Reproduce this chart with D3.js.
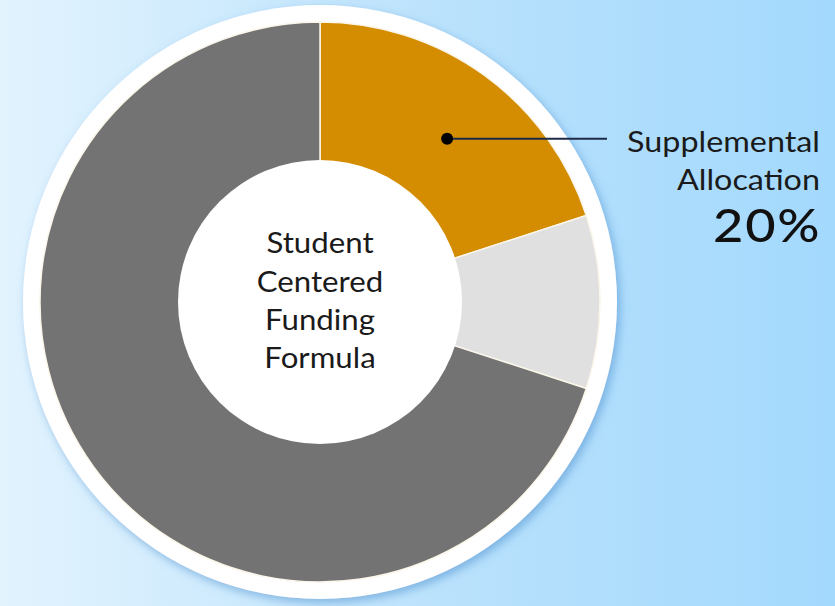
<!DOCTYPE html>
<html>
<head>
<meta charset="utf-8">
<script src="https://cdn.jsdelivr.net/npm/d3@7"></script>
<style>
  html, body { margin: 0; padding: 0; overflow: hidden; }
  svg { display: block; }
</style>
</head>
<body>
<svg id="chart" width="835" height="606"></svg>
<script>
// ---- data ----
const categories = ["Supplemental Allocation", "Other", "Base Allocation"];
const values = [20, 10, 70];
const colors = ["#D48C00", "#E0E0E0", "#737373"];
const centerLines = ["Student", "Centered", "Funding", "Formula"];
const calloutLines = ["Supplemental", "Allocation"];
const calloutValue = "20%";

const W = 835, H = 606;
const cx = 320, cy = 302;
const outerR = 280, innerR = 142, ringR = 297;
const stretch = 1.115;

const svg = d3.select("#chart");
const defs = svg.append("defs");

const bg = defs.append("linearGradient").attr("id", "bg")
  .attr("x1", "0%").attr("y1", "0%").attr("x2", "100%").attr("y2", "0%");
bg.append("stop").attr("offset", "0%").attr("stop-color", "#e2f3fe");
bg.append("stop").attr("offset", "60%").attr("stop-color", "#b6e0fc");
bg.append("stop").attr("offset", "100%").attr("stop-color", "#a3d9fd");

const sh = defs.append("filter").attr("id", "shadow")
  .attr("x", "-20%").attr("y", "-20%").attr("width", "140%").attr("height", "140%");
sh.append("feDropShadow").attr("dx", 3).attr("dy", 4).attr("stdDeviation", 5)
  .attr("flood-color", "#4a8ccc").attr("flood-opacity", 0.55);

svg.append("rect").attr("width", W).attr("height", H).attr("fill", "url(#bg)");

const g = svg.append("g").attr("transform", `translate(${cx},${cy})`);

// white ring behind
g.append("circle").attr("r", ringR).attr("fill", "#ffffff").attr("filter", "url(#shadow)");

const pie = d3.pie().sort(null).value(d => d)(values);
const arc = d3.arc().innerRadius(0).outerRadius(outerR);

g.selectAll("path.slice").data(pie).join("path")
  .attr("class", "slice")
  .attr("d", arc)
  .attr("fill", (d, i) => colors[i])
  .attr("stroke", "#fbf6ea")
  .attr("stroke-width", 1.5);

// inner white circle
g.append("circle").attr("r", innerR).attr("fill", "#ffffff");

// center text
const ct = g.append("g").attr("transform", `scale(${stretch},1)`).append("text")
  .attr("text-anchor", "middle")
  .attr("font-family", "Lato, 'Open Sans', sans-serif")
  .attr("font-size", 28)
  .attr("fill", "#1a1a1a");
centerLines.forEach((t, i) => {
  ct.append("tspan").attr("x", 0).attr("y", -49 + i * 38.5).text(t);
});

// callout marker
const a0 = pie[0];
const mid = (a0.startAngle + a0.endAngle) / 2;
const mr = 207;
const mx = cx + mr * Math.sin(mid + 0.033);
const my = cy - mr * Math.cos(mid + 0.033);
svg.append("line")
  .attr("x1", mx).attr("y1", my).attr("x2", 607).attr("y2", my)
  .attr("stroke", "#1e2a48").attr("stroke-width", 2);
svg.append("circle").attr("cx", mx).attr("cy", my).attr("r", 6).attr("fill", "#000");

const lg = svg.append("g").attr("transform", `translate(820,0) scale(${stretch},1)`);
const lt = lg.append("text")
  .attr("text-anchor", "end")
  .attr("font-family", "Lato, 'Open Sans', sans-serif")
  .attr("font-size", 29)
  .attr("fill", "#1a1a1a");
calloutLines.forEach((t, i) => {
  lt.append("tspan").attr("x", 0).attr("y", 152 + i * 38).text(t);
});
lg.append("text")
  .attr("x", 1).attr("y", 242)
  .attr("text-anchor", "end")
  .attr("font-family", "Lato, 'Open Sans', sans-serif")
  .attr("font-size", 47)
  .attr("letter-spacing", 1.5)
  .attr("font-weight", 500)
  .attr("fill", "#111")
  .text(calloutValue);
</script>
</body>
</html>
